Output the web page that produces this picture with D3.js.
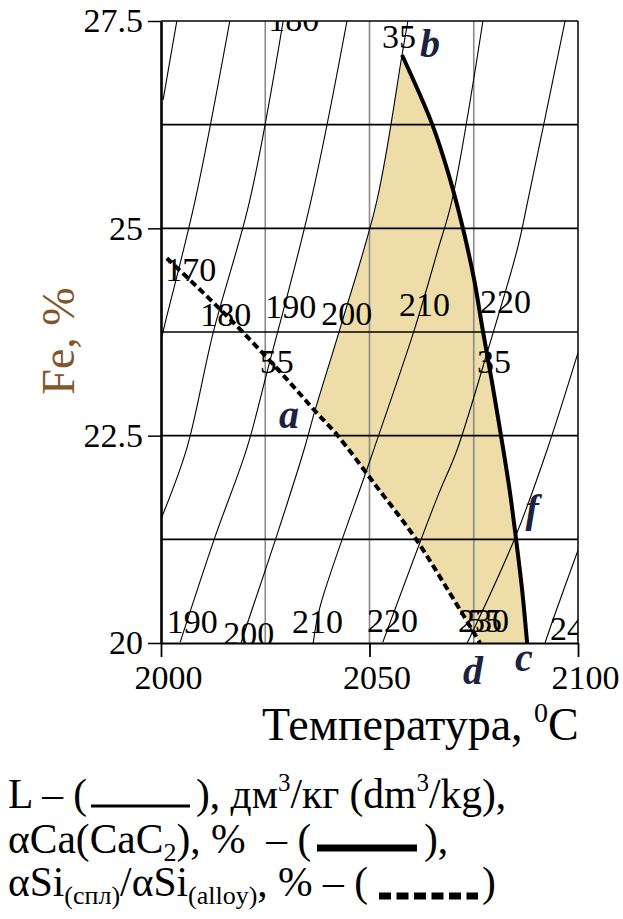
<!DOCTYPE html>
<html><head><meta charset="utf-8">
<script src="https://cdn.jsdelivr.net/npm/d3@7/dist/d3.min.js"></script>
<style>
body{margin:0;background:#fff}
svg{display:block}
text{font-family:"Liberation Serif","Times New Roman",serif;white-space:pre}
</style>
</head><body>
<svg id="chart" width="623" height="919"></svg>
<script>
// ---------- data ----------
const tempTicks = [2000, 2050, 2100];
const feTicks = [20, 22.5, 25, 27.5];
const feTickLabels = ["20", "22.5", "25", "27.5"];
const feGrid = [21.25, 22.5, 23.75, 25, 26.25, 27.5];
const tempGrid = [2025, 2050, 2075];

// L isolines, dm3/kg : [temperature, Fe %]
const L160 = [[2003.8,27.5],[2000.5,26.55]];
const L170 = [[2016.5,27.5],[2008.2,25.34],[2001.0,23.86],[2000,23.65]];
const L180 = [[2029.3,27.5],[2021.3,25.34],[2012.5,23.74],[2006.2,22.35],[2000.2,21.52]];
const L190 = [[2044.6,27.5],[2036.0,25.34],[2025.4,23.26],[2020.6,22.35],[2012.9,21.27],[2004.6,20.01]];
const L200 = [[2059.2,27.5],[2057.8,27.09],[2051.8,25.34],[2043.4,23.87],[2036.9,22.80],[2034.3,22.33],[2027.6,21.27],[2020.6,20.22],[2019.2,20.0]];
const L210 = [[2077.2,27.5],[2069.8,25.34],[2066.4,24.74],[2060.9,23.80],[2050.6,22.27],[2038.1,20.43],[2036.5,20.0]];
const L220 = [[2096.9,27.5],[2088.0,25.34],[2085.4,24.74],[2078.2,23.50],[2071.0,22.33],[2066.2,21.75],[2053.2,20.01]];
const L230 = [[2100,23.5],[2092.6,22.33],[2084.9,21.27],[2074.1,20.07],[2073.4,20.0]];
const L240 = [[2100,21.12],[2094.0,20.28],[2092.1,20.0]];
const isoL = [L160, L170, L180, L190, L200, L210, L220, L230, L240];

// alpha Ca(CaC2) = 35 % (thick line) b -> f -> c
const caLine = [[2057.8,27.09],[2065.0,26.26],[2069.1,25.63],[2072.4,25.00],[2075.1,24.38],[2077.2,23.76],[2079.4,23.14],[2081.5,22.51],[2083.5,21.88],[2085.1,21.27],[2086.6,20.64],[2087.8,20.0]];
// alpha Si(alloy) = 55 % (dashed line) ... a ... d
const siLine = [[2001.4,24.64],[2010.6,24.20],[2019.4,23.76],[2030.9,23.14],[2036.9,22.80],[2042.2,22.51],[2051.8,21.88],[2060.9,21.27],[2068.8,20.64],[2076.5,20.0]];
const aIndexSi = 4;   // point a on siLine
const aIndexL = 4;    // point a on L200
const bIndexL = 1;    // point b on L200

// isoline value labels: [text, temperature, Fe] (start, baseline)
const isoLabels = [
  ["170",2001.0,24.36],["180",2009.4,23.82],["190",2025.0,23.92],["200",2038.4,23.84],
  ["210",2057.1,23.94],["220",2076.5,23.98],["35",2075.8,23.26],["55",2023.7,23.25],
  ["35",2053.0,27.17],["180",2025.7,27.38],
  ["190",2001.4,20.12],["200",2014.9,19.98],["210",2031.4,20.12],["220",2049.4,20.13],
  ["230",2071.2,20.13],["55",2073.6,20.13],["240",2093.3,20.04]
];
// point letters: [text, temperature, Fe]
const pointLabels = [["b",2062.1,27.07],["a",2028.3,22.59],["f",2087.4,21.46],["d",2072.4,19.5],["c",2084.9,19.66]];

// ---------- drawing ----------
const svg = d3.select("#chart");
const x = d3.scaleLinear().domain([2000, 2100]).range([161, 578]);
const y = d3.scaleLinear().domain([20, 27.5]).range([643, 21]);
const line = d3.line().x(d => x(d[0])).y(d => y(d[1])).curve(d3.curveCatmullRom.alpha(0.5));

svg.append("defs").append("clipPath").attr("id","plot")
  .append("rect").attr("x",x(2000)).attr("y",y(27.5)).attr("width",x(2100)-x(2000)).attr("height",y(20)-y(27.5));

const plot = svg.append("g").attr("clip-path","url(#plot)");

// filled region a-b-f-c-d
const join = p => "L" + p.slice(1);
const polyD = line(caLine)
  + join(line(siLine.slice(aIndexSi).reverse()))
  + join(line(L200.slice(bIndexL, aIndexL + 1).reverse())) + "Z";
plot.append("path").attr("d", polyD).attr("fill", "#EEDDA9").attr("stroke","none");

// grid
plot.selectAll(".vg").data(tempGrid).join("line")
  .attr("x1", d => x(d)).attr("x2", d => x(d)).attr("y1", y(27.5)).attr("y2", y(20))
  .attr("stroke", "#8a8a8a").attr("stroke-width", 1.6);
svg.selectAll(".hg").data(feGrid).join("line")
  .attr("x1", x(2000)).attr("x2", x(2100)).attr("y1", d => y(d)).attr("y2", d => y(d))
  .attr("stroke", "#000").attr("stroke-width", 1.6);
svg.append("line").attr("x1", x(2100)).attr("x2", x(2100)).attr("y1", y(27.5)).attr("y2", y(20))
  .attr("stroke", "#111").attr("stroke-width", 1.6);

// L isolines
plot.selectAll(".iso").data(isoL).join("path")
  .attr("d", line).attr("fill","none").attr("stroke","#000").attr("stroke-width",1.1);

// dashed alpha Si line
plot.append("path").attr("d", line(siLine)).attr("fill","none")
  .attr("stroke","#000").attr("stroke-width",4).attr("stroke-dasharray","7,4");
// thick alpha Ca line
plot.append("path").attr("d", line(caLine)).attr("fill","none")
  .attr("stroke","#000").attr("stroke-width",4);

// isoline labels
plot.selectAll(".il").data(isoLabels).join("text")
  .attr("x", d => x(d[1])).attr("y", d => y(d[2]))
  .attr("font-size", 34).attr("fill","#000").text(d => d[0]);

// axes
const yAxis = d3.axisLeft(y).tickValues(feTicks).tickFormat((d,i) => feTickLabels[i])
  .tickSize(13).tickSizeOuter(0).tickPadding(5);
const gy = svg.append("g").attr("transform", `translate(${x(2000)},0)`).call(yAxis);
gy.select(".domain").attr("stroke","#000").attr("stroke-width",2.6);
gy.selectAll(".tick line").attr("stroke","#000").attr("stroke-width",1.5);
gy.selectAll("text").attr("font-size",34).attr("fill","#000");

const xAxis = d3.axisBottom(x).tickValues(tempTicks).tickFormat(d3.format("d"))
  .tickSize(14).tickSizeOuter(0).tickPadding(8);
const gx = svg.append("g").attr("transform", `translate(0,${y(20)})`).call(xAxis);
gx.select(".domain").attr("stroke","#000").attr("stroke-width",2.2);
gx.selectAll(".tick line").attr("stroke","#000").attr("stroke-width",1.8);
gx.selectAll("text").attr("font-size",34).attr("fill","#000").attr("dx",7);

// point letters
svg.selectAll(".pl").data(pointLabels).join("text")
  .attr("x", d => x(d[1])).attr("y", d => y(d[2]))
  .attr("font-size", 40).attr("font-style","italic").attr("font-weight","bold")
  .attr("fill","#1b2240").text(d => d[0]);

// axis titles
svg.append("text").attr("transform","translate(74,341) rotate(-90)")
  .attr("text-anchor","middle").attr("font-size",46).attr("fill","#83552a").text("Fe, %");
const xt = svg.append("text").attr("x",262).attr("y",740).attr("font-size",46).attr("fill","#000");
xt.append("tspan").text("Температура, ");
xt.append("tspan").attr("font-size",28).attr("dy",-18).text("0");
xt.append("tspan").attr("dy",18).text("C");

// legend
const lf = 41.5;
const l1 = svg.append("text").attr("x",8).attr("y",808).attr("font-size",lf);
l1.append("tspan").text("L – (");
svg.append("line").attr("x1",91).attr("x2",190).attr("y1",806).attr("y2",806).attr("stroke","#000").attr("stroke-width",3);
const l1b = svg.append("text").attr("x",196).attr("y",808).attr("font-size",lf);
l1b.append("tspan").text("), дм");
l1b.append("tspan").attr("font-size",25).attr("dy",-17).text("3");
l1b.append("tspan").attr("dy",17).text("/кг (dm");
l1b.append("tspan").attr("font-size",25).attr("dy",-17).text("3");
l1b.append("tspan").attr("dy",17).text("/kg),");

const l2 = svg.append("text").attr("x",8).attr("y",853).attr("font-size",lf);
l2.append("tspan").text("αCa(CaC");
l2.append("tspan").attr("font-size",26).attr("dy",8).text("2");
l2.append("tspan").attr("dy",-8).text("), %  – (");
svg.append("line").attr("x1",317).attr("x2",417).attr("y1",848).attr("y2",848).attr("stroke","#000").attr("stroke-width",7);
svg.append("text").attr("x",424).attr("y",853).attr("font-size",lf).text("),");

const l3 = svg.append("text").attr("x",8).attr("y",896).attr("font-size",lf);
l3.append("tspan").text("αSi");
l3.append("tspan").attr("font-size",26).attr("dy",8).text("(спл)");
l3.append("tspan").attr("dy",-8).text("/αSi");
l3.append("tspan").attr("font-size",26).attr("dy",8).text("(alloy)");
l3.append("tspan").attr("dy",-8).text(", % – (");
svg.append("line").attr("x1",379).attr("x2",478).attr("y1",896).attr("y2",896).attr("stroke","#000").attr("stroke-width",7).attr("stroke-dasharray","12,5.5");
svg.append("text").attr("x",482).attr("y",896).attr("font-size",lf).text(")");
</script>
</body></html>
